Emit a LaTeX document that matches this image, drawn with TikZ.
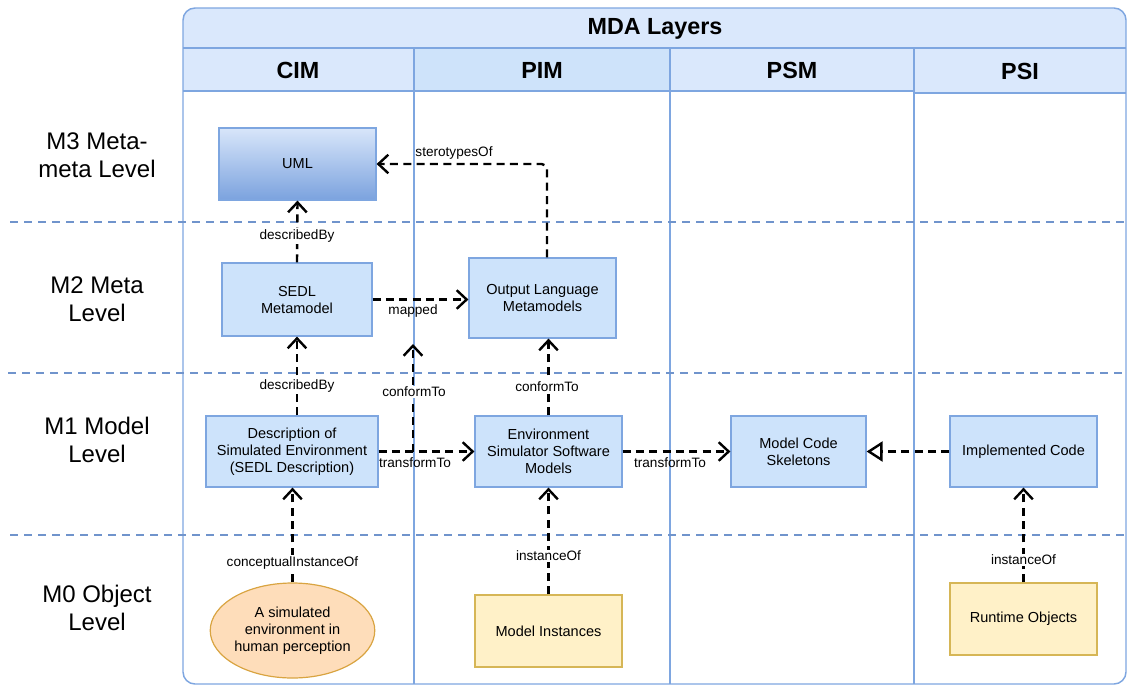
\documentclass[tikz,border=0pt]{standalone}
\usepackage{fontspec}
\setmainfont{Liberation Sans}
\usetikzlibrary{arrows.meta,shapes.geometric}

\definecolor{gridline}{HTML}{7EA6E0}
\definecolor{headfill}{HTML}{DAE8FC}
\definecolor{pimfill}{HTML}{CEE3FA}
\definecolor{boxfill}{HTML}{CDE3FB}
\definecolor{boxline}{HTML}{7EA6E0}
\definecolor{levelline}{HTML}{7094CC}
\definecolor{umltop}{HTML}{D8E6FA}
\definecolor{umlbottom}{HTML}{7BA2DE}
\definecolor{ellfill}{HTML}{FEDDBA}
\definecolor{ellline}{HTML}{D9A441}
\definecolor{yelfill}{HTML}{FFF1C8}
\definecolor{yelline}{HTML}{D6B656}

\newcommand\mdaboxfont{\fontsize{10.9}{12.75}\selectfont}
\newcommand\mdalblfont{\fontsize{10.2}{12}\selectfont}
\newcommand\mdalevelfont{\fontsize{18}{21}\selectfont}
\newcommand\mdaheadfont{\fontsize{17.5}{20}\selectfont\bfseries}

\tikzset{
  box/.style={draw=boxline, fill=boxfill, line width=0.9pt, inner sep=0pt,
    align=center, font=\mdaboxfont},
  umlbox/.style={box, top color=umltop, bottom color=umlbottom},
  yelbox/.style={box, draw=yelline, fill=yelfill},
  ellbox/.style={box, ellipse, draw=ellline, fill=ellfill},
  link/.style={draw=black, line width=1.8pt, dash pattern=on 6pt off 4pt,
    -{Straight Barb[length=7.5pt,width=14pt]}},
  reallink/.style={draw=black, line width=1.8pt, dash pattern=on 6pt off 4pt,
    -{Triangle[open,length=12pt,width=15pt,fill=white]}},
  lbl/.style={font=\mdalblfont, inner sep=1pt},
  lblbg/.style={lbl, fill=white},
  levellbl/.style={font=\mdalevelfont, align=center},
  headlbl/.style={font=\mdaheadfont},
  grid/.style={draw=gridline, line width=1.1pt},
  levelsep/.style={draw=levelline, line width=1.6pt, dash pattern=on 6pt off 4.5pt},
}

\begin{document}
\begin{tikzpicture}[x=0.75pt, y=-0.75pt]
\useasboundingbox (0,0) rectangle (1128,686);

% table frame: title band and column headers
\begin{scope}
  \clip[rounded corners=9pt] (183,8) rectangle (1126,684);
  \fill[headfill] (183,8) rectangle (1126,48);
  \fill[headfill] (183,48) rectangle (414,91);
  \fill[pimfill]  (414,48) rectangle (670,91);
  \fill[headfill] (670,48) rectangle (914,91);
  \fill[headfill] (914,48) rectangle (1126,93);
\end{scope}
\draw[grid] (183,48) -- (1126,48);
\draw[grid] (183,91) -- (914,91);
\draw[grid] (914,93) -- (1126,93);
\draw[grid] (414,48) -- (414,684);
\draw[grid] (670,48) -- (670,684);
\draw[grid] (914,48) -- (914,684);
\draw[grid, rounded corners=9pt] (183,8) rectangle (1126,684);

\node[headlbl] (title) at (655,29) {MDA Layers};
\node[headlbl] (cim) at (298,70) {CIM};
\node[headlbl] (pim) at (542,70) {PIM};
\node[headlbl] (psm) at (792,70) {PSM};
\node[headlbl] (psi) at (1020,71) {PSI};

% level separators
\draw[levelsep] (10,222) -- (1128,222);
\draw[levelsep] (8,373) -- (1128,373);
\draw[levelsep] (10,535) -- (1128,535);

\node[levellbl] (m3) at (97,155) {M3 Meta-\\meta Level};
\node[levellbl] (m2) at (97,299) {M2 Meta\\Level};
\node[levellbl] (m1) at (97,440) {M1 Model\\Level};
\node[levellbl] (m0) at (97,608) {M0 Object\\Level};

% model elements
\node[umlbox, minimum width=117.75pt, minimum height=54pt] (uml) at (297.5,164) {UML};
\node[box, minimum width=112.5pt, minimum height=54.75pt] (sedl) at (297,299.5) {SEDL\\Metamodel};
\node[box, minimum width=110.25pt, minimum height=60pt] (outlang) at (542.5,298) {Output Language\\Metamodels};
\node[box, minimum width=129pt, minimum height=53.25pt] (desc) at (292,451.5) {Description of\\Simulated Environment\\(SEDL Description)};
\node[box, minimum width=110.25pt, minimum height=53.25pt] (env) at (548.5,451.5) {Environment\\Simulator Software\\Models};
\node[box, minimum width=101.25pt, minimum height=53.25pt] (mcs) at (798.5,451.5) {Model Code\\Skeletons};
\node[box, minimum width=110.25pt, minimum height=53.25pt] (impl) at (1023.5,451.5) {Implemented Code};
\node[ellbox, minimum width=110.25pt, minimum height=71.25pt] (human) at (292.5,630.5) {A simulated\\environment in\\human perception};
\node[yelbox, minimum width=110.25pt, minimum height=54pt] (inst) at (548.5,631) {Model Instances};
\node[yelbox, minimum width=110.25pt, minimum height=54pt] (runtime) at (1023.5,619) {Runtime Objects};

% free ends of the conformTo link
\coordinate (cfbottom) at (413,451.5);
\coordinate (cftop) at (413,344);

% relations
\draw[link, rounded corners=4pt] ([xshift=3.4pt]outlang.north) |- (uml.east);
\draw[link] (sedl.north) -- (uml.south);
\draw[link] (sedl.east) -- (sedl.east -| outlang.west);
\draw[link] (sedl.south |- desc.north) -- (sedl.south);
\draw[link] (cfbottom) -- (cftop);
\draw[link] (env.north) -- (env.north |- outlang.south);
\draw[link] (desc.east) -- (env.west);
\draw[link] (env.east) -- (mcs.west);
\draw[reallink] (impl.west) -- (mcs.east);
\draw[link] (human.north) -- (human.north |- desc.south);
\draw[link] (inst.north) -- (env.south);
\draw[link] (runtime.north) -- (impl.south);

% relation labels
\node[lbl] (lstereo) at (454,153) {sterotypesOf};
\node[lblbg] (ldesc1) at (297,236) {describedBy};
\node[lbl] (lmapped) at (413,311) {mapped};
\node[lblbg] (ldesc2) at (297,386) {describedBy};
\node[lblbg] (lconf1) at (414,392) {conformTo};
\node[lblbg] (lconf2) at (547,387) {conformTo};
\node[lbl] (ltrans1) at (415,463) {transformTo};
\node[lbl] (ltrans2) at (670,463) {transformTo};
\node[lblbg] (lconc) at (292.5,563) {conceptualInstanceOf};
\node[lblbg] (linst1) at (548.5,556) {instanceOf};
\node[lblbg] (linst2) at (1023.5,560) {instanceOf};
\end{tikzpicture}
\end{document}
